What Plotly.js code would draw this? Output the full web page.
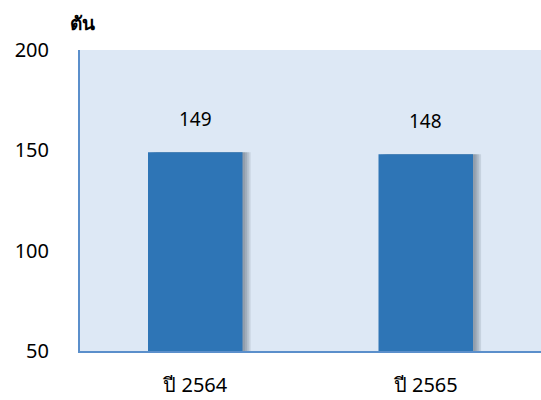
<!DOCTYPE html>
<html><head><meta charset="utf-8">
<script src="https://cdn.plot.ly/plotly-3.0.1.min.js"></script>
<style>html,body{margin:0;padding:0;background:#fff}#c{width:541px;height:400px}</style>
</head><body><div id="c"></div>
<script>
const categories = ["ปี 2564", "ปี 2565"];
const values = [149, 148];
const yTicks = [50, 100, 150, 200];
const unitLabel = "ตัน";

const font = "Noto Sans, Tahoma, DejaVu Sans, sans-serif";
const BW = 0.41;
const shadowSteps = [0.035, 0.027, 0.019, 0.011];
const shadows = shadowSteps.map(s => ({
  type: "bar", x: categories, y: values, width: BW, offset: -BW / 2 + s,
  marker: {color: "rgba(50,60,80,0.13)", line: {width: 0}},
  hoverinfo: "skip", showlegend: false
}));
const bars = {
  type: "bar", x: categories, y: values, width: BW, offset: -BW / 2,
  marker: {color: "#2E75B6", line: {width: 0}}, showlegend: false
};
const annotations = categories.map((c, i) => ({
  x: c, y: values[i], xref: "x", yref: "y", text: String(values[i]),
  showarrow: false, yshift: 33, font: {family: font, size: 19, color: "#000"}
}));
annotations.push({
  xref: "paper", yref: "paper", x: 0, y: 1, xanchor: "center", yanchor: "bottom",
  xshift: 2, yshift: 12, text: "<b>" + unitLabel + "</b>", showarrow: false,
  font: {family: font, size: 19, color: "#000"}
});
const layout = {
  width: 541, height: 400,
  margin: {l: 80, r: 0, t: 50, b: 49},
  paper_bgcolor: "#ffffff", plot_bgcolor: "#DDE8F5",
  barmode: "overlay",
  xaxis: {
    type: "category", showgrid: false, zeroline: false,
    showline: true, linecolor: "#5B8FCB", linewidth: 2,
    tickvals: categories, ticktext: categories,
    ticks: "", ticklabelstandoff: 15,
    tickfont: {family: font, size: 20, color: "#000"}
  },
  yaxis: {
    range: [50, 200], tickvals: yTicks, showgrid: false, zeroline: false,
    showline: true, linecolor: "#5B8FCB", linewidth: 2,
    ticks: "", ticklabelstandoff: 25,
    tickfont: {family: font, size: 20, color: "#000"}
  },
  annotations: annotations
};
Plotly.newPlot("c", shadows.concat([bars]), layout, {displayModeBar: false, staticPlot: true});
</script></body></html>
